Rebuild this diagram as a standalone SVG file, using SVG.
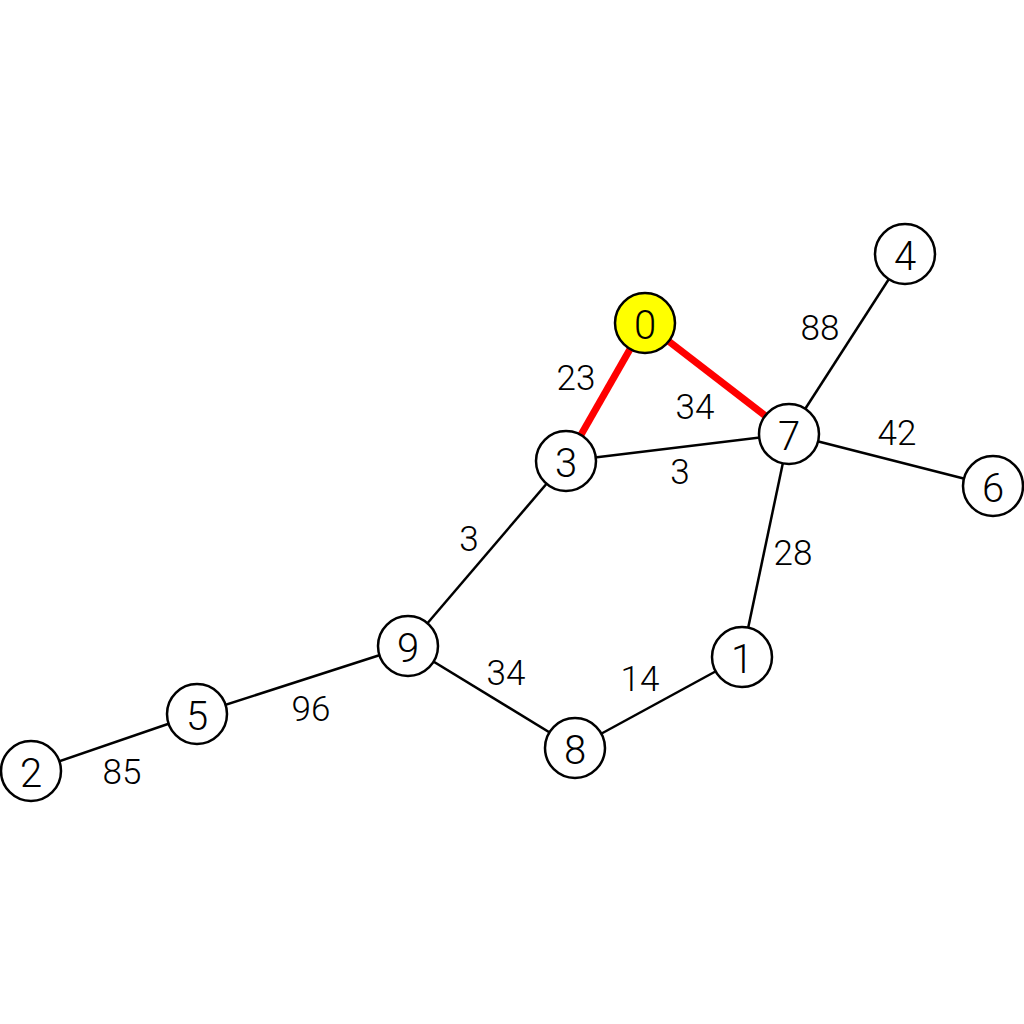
<svg xmlns="http://www.w3.org/2000/svg" width="1024" height="1024" viewBox="0 0 1024 1024">
<style>
.edge{stroke:#000;stroke-width:2.5;fill:none}
.hl{stroke:#ff0000;stroke-width:7;fill:none}
.node circle{fill:#fff;stroke:#000;stroke-width:2.5}
.node text{font-family:Roboto,"Liberation Sans",sans-serif;font-weight:300;font-size:40px;text-anchor:middle;dominant-baseline:central;fill:#000}
.lbl{font-family:Roboto,"Liberation Sans",sans-serif;font-weight:300;font-size:35px;text-anchor:middle;dominant-baseline:central;fill:#000}
</style>
<rect width="1024" height="1024" fill="#fff"/>
<g id="connectors">
<line class="edge" x1="905" y1="254" x2="789" y2="434"/>
<line class="edge" x1="566" y1="461" x2="789" y2="434"/>
<line class="edge" x1="789" y1="434" x2="993" y2="486"/>
<line class="edge" x1="789" y1="434" x2="742" y2="657"/>
<line class="edge" x1="566" y1="461" x2="408" y2="646"/>
<line class="edge" x1="408" y1="646" x2="575" y2="748"/>
<line class="edge" x1="575" y1="748" x2="742" y2="657"/>
<line class="edge" x1="408" y1="646" x2="197" y2="714"/>
<line class="edge" x1="197" y1="714" x2="31" y2="771"/>
<line class="hl" x1="645" y1="323" x2="566" y2="461"/>
<line class="hl" x1="645" y1="323" x2="789" y2="434"/>
<text class="lbl" x="820" y="328">88</text>
<text class="lbl" x="576" y="378">23</text>
<text class="lbl" x="695" y="407">34</text>
<text class="lbl" x="897" y="433">42</text>
<text class="lbl" x="680" y="472">3</text>
<text class="lbl" x="793" y="553">28</text>
<text class="lbl" x="469" y="539">3</text>
<text class="lbl" x="506" y="673">34</text>
<text class="lbl" x="640" y="679">14</text>
<text class="lbl" x="311" y="709">96</text>
<text class="lbl" x="122" y="772">85</text>
</g>
<g id="node0" class="node"><circle cx="645" cy="323" r="30" style="fill:#ffff00"/><text x="645" y="325">0</text></g>
<g id="node1" class="node"><circle cx="742" cy="657" r="30"/><text x="742" y="659">1</text></g>
<g id="node2" class="node"><circle cx="31" cy="771" r="30"/><text x="31" y="773">2</text></g>
<g id="node3" class="node"><circle cx="566" cy="461" r="30"/><text x="566" y="463">3</text></g>
<g id="node4" class="node"><circle cx="905" cy="254" r="30"/><text x="905" y="256">4</text></g>
<g id="node5" class="node"><circle cx="197" cy="714" r="30"/><text x="197" y="716">5</text></g>
<g id="node6" class="node"><circle cx="993" cy="486" r="30"/><text x="993" y="488">6</text></g>
<g id="node7" class="node"><circle cx="789" cy="434" r="30"/><text x="789" y="436">7</text></g>
<g id="node8" class="node"><circle cx="575" cy="748" r="30"/><text x="575" y="750">8</text></g>
<g id="node9" class="node"><circle cx="408" cy="646" r="30"/><text x="408" y="648">9</text></g>
</svg>
